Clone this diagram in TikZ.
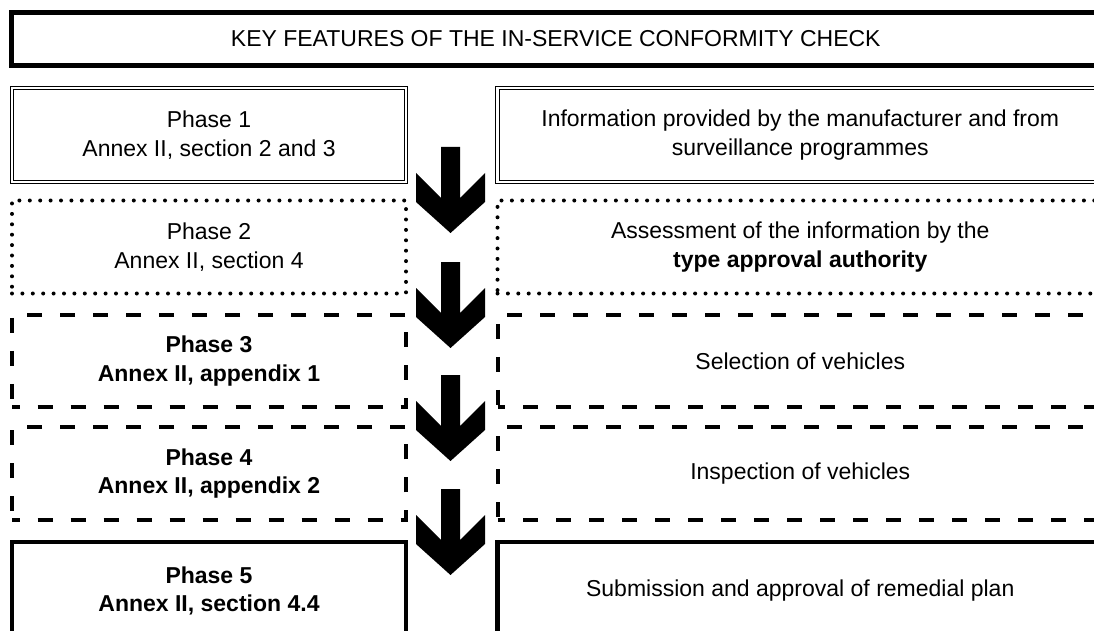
\documentclass[tikz,border=0pt]{standalone}
\usepackage{fontspec}
\setmainfont{Liberation Sans}
\begin{document}
\begin{tikzpicture}[x=1pt, y=-1pt,
    every node/.style={align=center, inner sep=0, font=\fontsize{23}{28.5}\selectfont},
    leftbox/.style={minimum width=394pt},
    rightbox/.style={minimum width=605.5pt},
    titlebox/.style={draw, line width=5pt, minimum width=1088.5pt, minimum height=53pt},
    dblbox/.style={draw, double, line width=1.3pt, double distance=2.2pt, minimum height=94pt},
    dotbox/.style={draw, line width=4pt, line cap=round, dash pattern=on 0pt off 10.4pt, minimum height=93pt},
    dashbox/.style={draw, line width=4pt, dash pattern=on 15pt off 18pt, dash phase=7.5pt, minimum height=92.5pt},
    solidbox/.style={draw, line width=4.5pt, minimum height=98pt}]
  \useasboundingbox (0,0) rectangle (1094,631);
  \clip (0,0) rectangle (1094,631);
  % heading
  \node [titlebox] (title) at (555.75,39) {KEY FEATURES OF THE IN-SERVICE CONFORMITY CHECK};
  % phases (left) and what happens in them (right)
  \node [dblbox, leftbox] (ph1) at (209,135) {Phase 1\\Annex II, section 2 and 3};
  \node [dblbox, rightbox] (info1) at (800.25,135) {Information provided by the manufacturer and from\\surveillance programmes};
  \node [dotbox, leftbox] (ph2) at (209,247) {Phase 2\\Annex II, section 4};
  \node [dotbox, rightbox] (info2) at (800.25,247) {Assessment of the information by the\\\textbf{type approval authority}};
  \node [dashbox, leftbox] (ph3) at (209,361) {\textbf{Phase 3}\\\textbf{Annex II, appendix 1}};
  \node [dashbox, rightbox] (info3) at (800.25,361) {Selection of vehicles};
  \node [dashbox, leftbox] (ph4) at (209,473.5) {\textbf{Phase 4}\\\textbf{Annex II, appendix 2}};
  \node [dashbox, rightbox] (info4) at (800.25,473.5) {Inspection of vehicles};
  \node [solidbox, leftbox] (ph5) at (209,591) {\textbf{Phase 5}\\\textbf{Annex II, section 4.4}};
  \node [solidbox, rightbox] (info5) at (800.25,591) {Submission and approval of remedial plan};
  % block arrows between the columns
  \foreach \t in {147,262,375,489} {\fill (441,\t) -- (460,\t) -- (460,\t+51) -- (485,\t+26) -- (485,\t+55) -- (450.5,\t+86) -- (416,\t+55) -- (416,\t+26) -- (441,\t+51) -- cycle;}
\end{tikzpicture}
\end{document}
